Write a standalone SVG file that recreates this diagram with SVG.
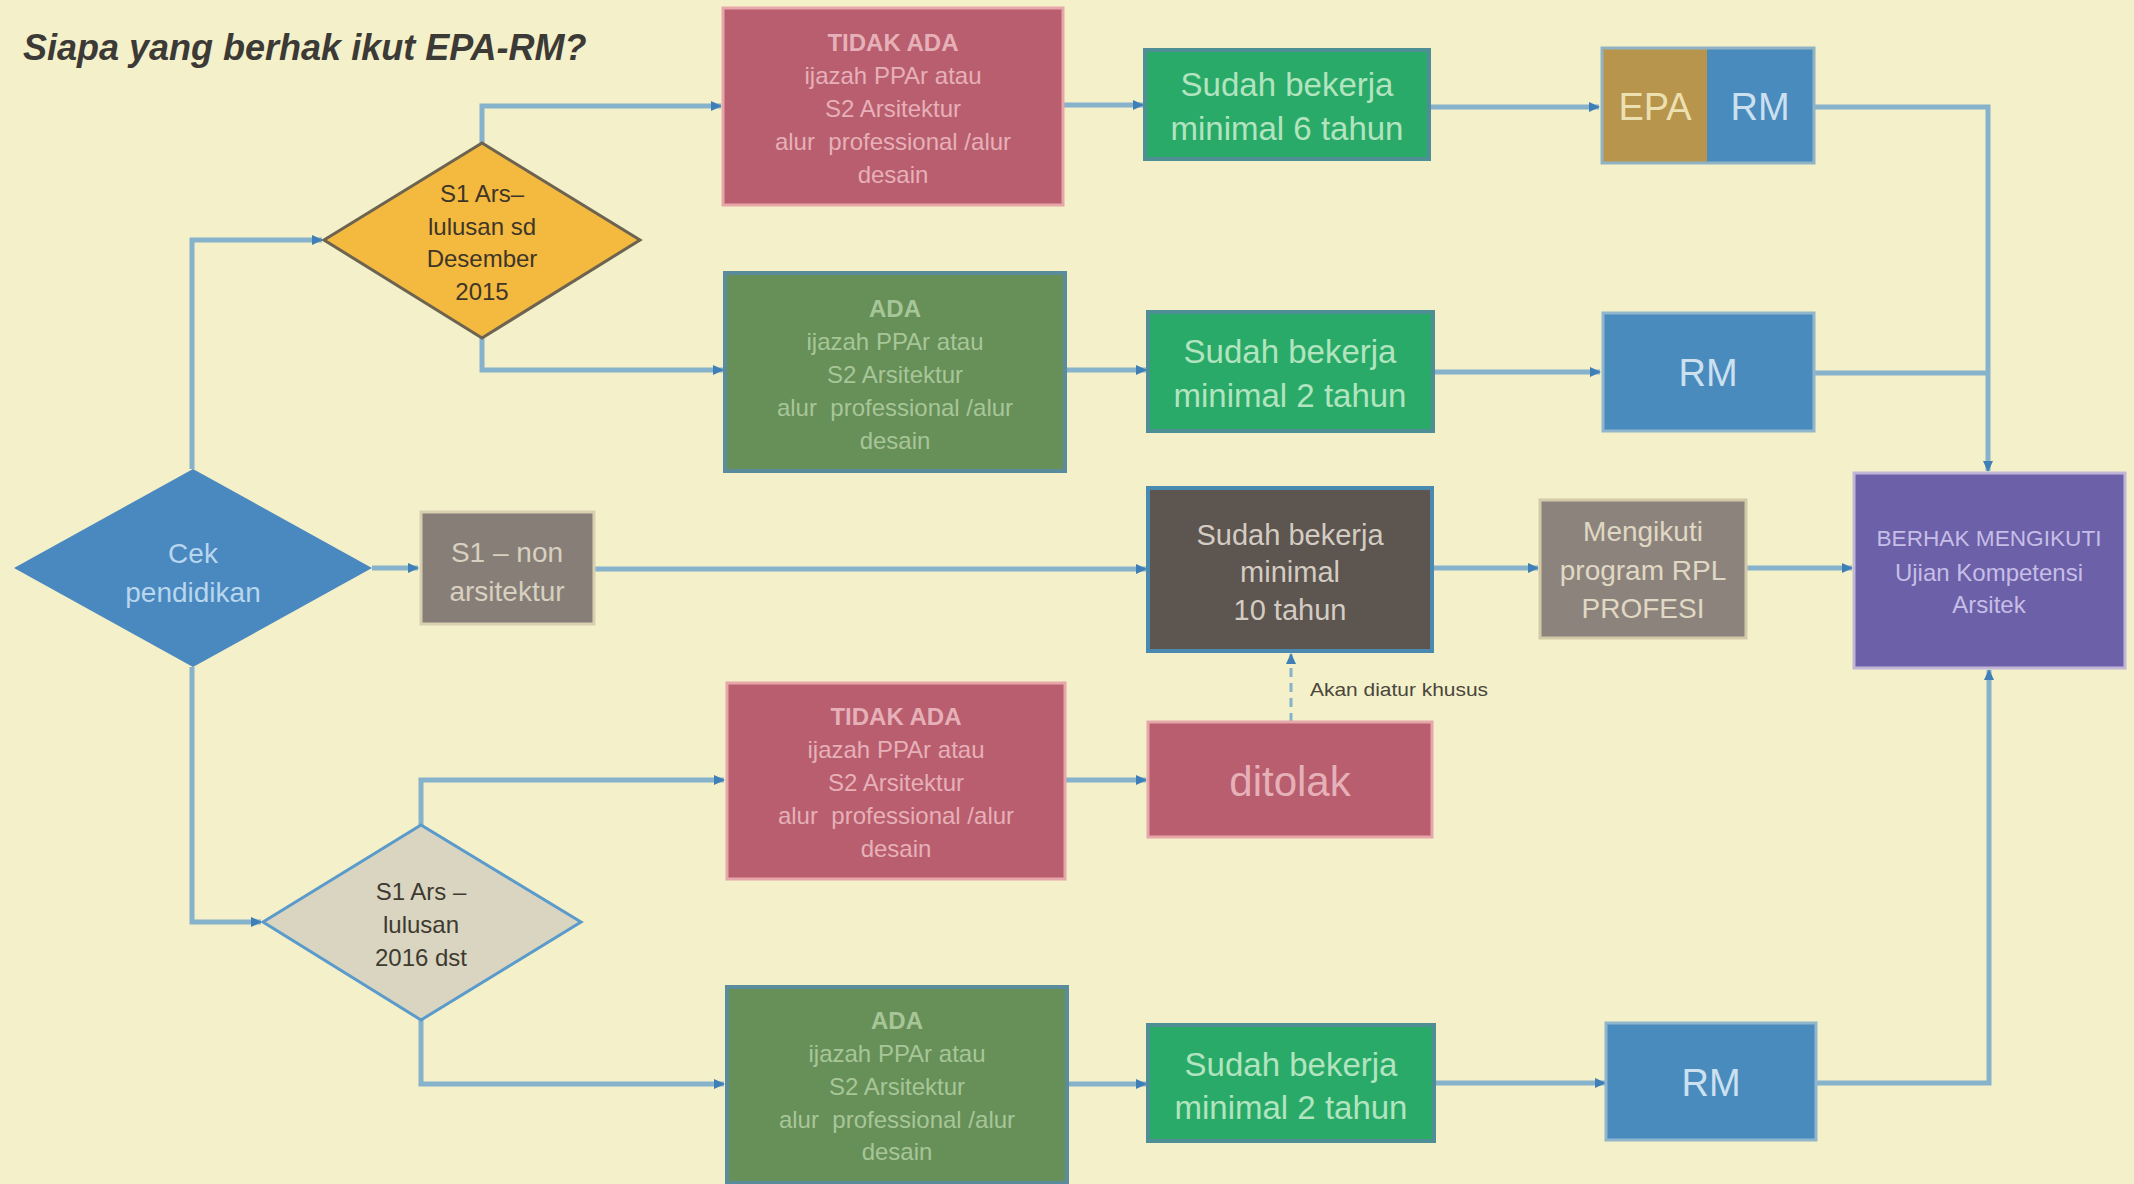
<svg xmlns="http://www.w3.org/2000/svg" width="2134" height="1184" viewBox="0 0 2134 1184">
<defs>
<marker id="arr" markerUnits="userSpaceOnUse" markerWidth="12" markerHeight="12" refX="10" refY="6" orient="auto">
<path d="M0,1 L11,6 L0,11 z" fill="#3f7fb8"/>
</marker>
<style>
text{font-family:"Liberation Sans",Arial,sans-serif;text-anchor:middle;dominant-baseline:central}
.con{fill:none;stroke:#86b2cc;stroke-width:5}
.dash{fill:none;stroke:#86b2cc;stroke-width:3;stroke-dasharray:9 6}
.red{fill:#b95e6e;stroke:#e6a6aa;stroke-width:3}
.redt{fill:#e6b0b8;font-size:24px}
.ada{fill:#678f58;stroke:#5a8c9c;stroke-width:4}
.adat{fill:#a7c698;font-size:24px}
.grn{fill:#2aaa68;stroke:#4d8f94;stroke-width:4}
.grnt{fill:#b2e4bf;font-size:33px}
.blue{fill:#4a8bbd;stroke:#8fb6cc;stroke-width:3}
.bluet{fill:#cce0f0;font-size:38px}
.b{font-weight:bold}
</style>
</defs>
<rect x="0" y="0" width="2134" height="1184" fill="#f4f0c9"/>
<text x="23" y="60" style="dominant-baseline:alphabetic;text-anchor:start;font-size:36px;font-weight:bold;font-style:italic;fill:#3c3a36">Siapa yang berhak ikut EPA-RM?</text>

<g id="connectors">
<path class="con" d="M192,469 V240 H322" marker-end="url(#arr)"/>
<path class="con" d="M192,667 V922 H261" marker-end="url(#arr)"/>
<path class="con" d="M372,568 H418" marker-end="url(#arr)"/>
<path class="con" d="M482,143 V106 H721" marker-end="url(#arr)"/>
<path class="con" d="M482,338 V370 H723" marker-end="url(#arr)"/>
<path class="con" d="M421,825 V780 H724" marker-end="url(#arr)"/>
<path class="con" d="M421,1020 V1084 H724" marker-end="url(#arr)"/>
<path class="con" d="M1063,105 H1143" marker-end="url(#arr)"/>
<path class="con" d="M1065,370 H1146" marker-end="url(#arr)"/>
<path class="con" d="M1065,780 H1146" marker-end="url(#arr)"/>
<path class="con" d="M1068,1084 H1146" marker-end="url(#arr)"/>
<path class="con" d="M1429,107 H1599" marker-end="url(#arr)"/>
<path class="con" d="M1433,372 H1600" marker-end="url(#arr)"/>
<path class="con" d="M1434,1083 H1605" marker-end="url(#arr)"/>
<path class="con" d="M595,569 H1146" marker-end="url(#arr)"/>
<path class="con" d="M1432,568 H1538" marker-end="url(#arr)"/>
<path class="con" d="M1746,568 H1852" marker-end="url(#arr)"/>
<path class="con" d="M1814,107 H1988 V471" marker-end="url(#arr)"/>
<path class="con" d="M1814,373 H1988"/>
<path class="con" d="M1816,1083 H1989 V670" marker-end="url(#arr)"/>
<path class="dash" d="M1291,722 V654" marker-end="url(#arr)"/>
<text x="1310" y="689" textLength="178" lengthAdjust="spacingAndGlyphs" style="text-anchor:start;font-size:19px;fill:#4a463c">Akan diatur khusus</text>
</g>

<g id="cek">
<polygon points="14,568 193,469 372,568 193,667" fill="#4a89bf"/>
<text x="193" y="553" style="font-size:28px;fill:#b8d6ee">Cek</text>
<text x="193" y="592" style="font-size:28px;fill:#b8d6ee">pendidikan</text>
</g>

<g id="s1-2015">
<polygon points="324,240 482,143 640,240 482,338" fill="#f4b93f" stroke="#6c6350" stroke-width="3"/>
<text x="482" y="193" style="font-size:24px;fill:#3e3628">S1 Ars–</text>
<text x="482" y="226" style="font-size:24px;fill:#3e3628">lulusan sd</text>
<text x="482" y="258" style="font-size:24px;fill:#3e3628">Desember</text>
<text x="482" y="291" style="font-size:24px;fill:#3e3628">2015</text>
</g>

<g id="s1-2016">
<polygon points="263,922 421,825 581,922 421,1020" fill="#d9d5c1" stroke="#5a9bcb" stroke-width="3"/>
<text x="421" y="891" style="font-size:24px;fill:#3e3a30">S1 Ars –</text>
<text x="421" y="924" style="font-size:24px;fill:#3e3a30">lulusan</text>
<text x="421" y="957" style="font-size:24px;fill:#3e3a30">2016 dst</text>
</g>

<g id="s1-non">
<rect x="421" y="512" width="173" height="112" fill="#877f77" stroke="#d8cfb0" stroke-width="3"/>
<text x="507" y="552" style="font-size:28px;fill:#d8d0c0">S1 – non</text>
<text x="507" y="591" style="font-size:28px;fill:#d8d0c0">arsitektur</text>
</g>

<g id="tidak-ada-1">
<rect class="red" x="723" y="8" width="340" height="197"/>
<text class="redt b" x="893" y="42">TIDAK ADA</text>
<text class="redt" x="893" y="75">ijazah PPAr atau</text>
<text class="redt" x="893" y="108">S2 Arsitektur</text>
<text class="redt" x="893" y="141">alur&#160; professional /alur</text>
<text class="redt" x="893" y="174">desain</text>
</g>

<g id="ada-1">
<rect class="ada" x="725" y="273" width="340" height="198"/>
<text class="adat b" x="895" y="308">ADA</text>
<text class="adat" x="895" y="341">ijazah PPAr atau</text>
<text class="adat" x="895" y="374">S2 Arsitektur</text>
<text class="adat" x="895" y="407">alur&#160; professional /alur</text>
<text class="adat" x="895" y="440">desain</text>
</g>

<g id="tidak-ada-2">
<rect class="red" x="727" y="683" width="338" height="196"/>
<text class="redt b" x="896" y="716">TIDAK ADA</text>
<text class="redt" x="896" y="749">ijazah PPAr atau</text>
<text class="redt" x="896" y="782">S2 Arsitektur</text>
<text class="redt" x="896" y="815">alur&#160; professional /alur</text>
<text class="redt" x="896" y="848">desain</text>
</g>

<g id="ada-2">
<rect class="ada" x="727" y="987" width="340" height="196"/>
<text class="adat b" x="897" y="1020">ADA</text>
<text class="adat" x="897" y="1053">ijazah PPAr atau</text>
<text class="adat" x="897" y="1086">S2 Arsitektur</text>
<text class="adat" x="897" y="1119">alur&#160; professional /alur</text>
<text class="adat" x="897" y="1151">desain</text>
</g>

<g id="kerja-6">
<rect class="grn" x="1145" y="50" width="284" height="109"/>
<text class="grnt" x="1287" y="84">Sudah bekerja</text>
<text class="grnt" x="1287" y="128">minimal 6 tahun</text>
</g>

<g id="kerja-2a">
<rect class="grn" x="1148" y="312" width="285" height="119"/>
<text class="grnt" x="1290" y="351">Sudah bekerja</text>
<text class="grnt" x="1290" y="395">minimal 2 tahun</text>
</g>

<g id="kerja-10">
<rect x="1148" y="488" width="284" height="163" fill="#5c5550" stroke="#4b8ab0" stroke-width="4"/>
<text x="1290" y="535" style="font-size:29px;fill:#d4ccc2">Sudah bekerja</text>
<text x="1290" y="572" style="font-size:29px;fill:#d4ccc2">minimal</text>
<text x="1290" y="610" style="font-size:29px;fill:#d4ccc2">10 tahun</text>
</g>

<g id="ditolak">
<rect class="red" x="1148" y="722" width="284" height="115"/>
<text x="1290" y="781" style="font-size:42px;fill:#e6b0b8">ditolak</text>
</g>

<g id="kerja-2b">
<rect class="grn" x="1148" y="1025" width="286" height="116"/>
<text class="grnt" x="1291" y="1064">Sudah bekerja</text>
<text class="grnt" x="1291" y="1107">minimal 2 tahun</text>
</g>

<g id="epa-rm">
<rect x="1602" y="48" width="105" height="115" fill="#b8954c"/>
<rect x="1707" y="48" width="107" height="115" fill="#4a8bbd"/>
<rect x="1602" y="48" width="212" height="115" fill="none" stroke="#8fb3c4" stroke-width="3"/>
<text x="1655" y="107" style="font-size:38px;fill:#ecdfb0">EPA</text>
<text class="bluet" x="1760" y="107">RM</text>
</g>

<g id="rm-1">
<rect class="blue" x="1603" y="313" width="211" height="118"/>
<text class="bluet" x="1708" y="373">RM</text>
</g>

<g id="rm-2">
<rect class="blue" x="1606" y="1023" width="210" height="117"/>
<text class="bluet" x="1711" y="1083">RM</text>
</g>

<g id="rpl">
<rect x="1540" y="500" width="206" height="138" fill="#8c847c" stroke="#d2c9a9" stroke-width="3"/>
<text x="1643" y="531" style="font-size:28px;fill:#e0d8c4">Mengikuti</text>
<text x="1643" y="570" style="font-size:28px;fill:#e0d8c4">program RPL</text>
<text x="1643" y="608" style="font-size:28px;fill:#e0d8c4">PROFESI</text>
</g>

<g id="berhak">
<rect x="1854" y="473" width="271" height="195" fill="#6c60a8" stroke="#c2b6d6" stroke-width="3"/>
<text x="1989" y="538" textLength="225" lengthAdjust="spacingAndGlyphs" style="font-size:22px;fill:#c6bee6">BERHAK MENGIKUTI</text>
<text x="1989" y="572" style="font-size:24px;fill:#c6bee6">Ujian Kompetensi</text>
<text x="1989" y="604" style="font-size:24px;fill:#c6bee6">Arsitek</text>
</g>
</svg>
